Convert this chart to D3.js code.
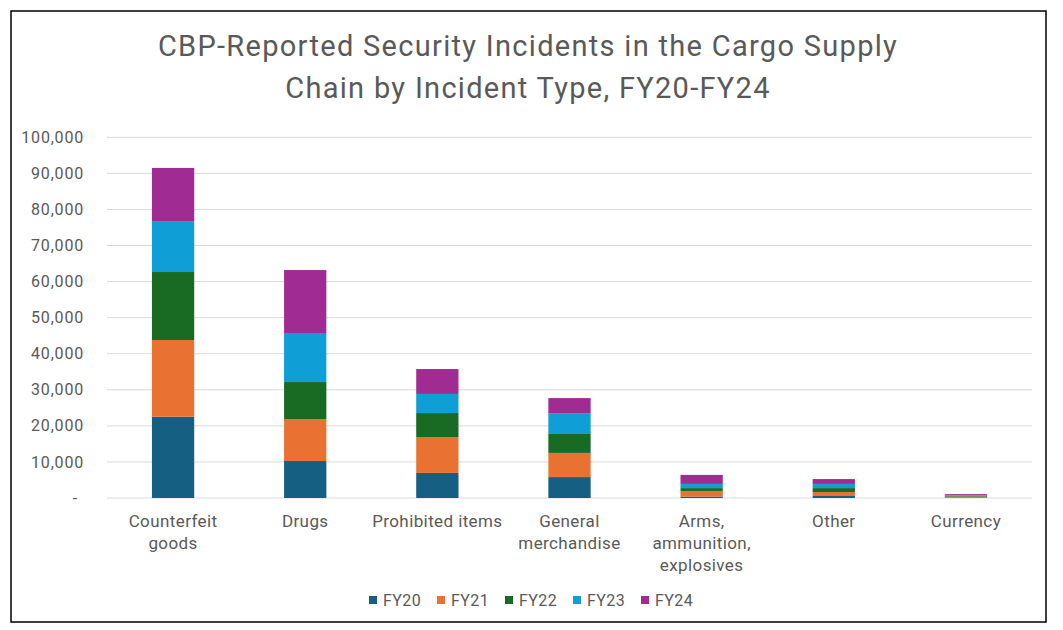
<!DOCTYPE html>
<html>
<head>
<meta charset="utf-8">
<script src="https://cdn.jsdelivr.net/npm/d3@7"></script>
<style>
  body { margin: 0; background: #fff; }
  text { font-family: Roboto, "Liberation Sans", sans-serif; fill: #595959; }
</style>
</head>
<body>
<div id="chart"></div>
<script>
// categories and series
var categories = ["Counterfeit goods", "Drugs", "Prohibited items", "General merchandise",
                  "Arms, ammunition, explosives", "Other", "Currency"];
var categoryLines = [["Counterfeit", "goods"], ["Drugs"], ["Prohibited items"], ["General", "merchandise"],
                     ["Arms,", "ammunition,", "explosives"], ["Other"], ["Currency"]];
var seriesNames = ["FY20", "FY21", "FY22", "FY23", "FY24"];
var fy20 = [22550, 10250, 6950, 5800, 400, 550, 150];
var fy21 = [21250, 11650, 9950, 6700, 1550, 1100, 250];
var fy22 = [18850, 10250, 6650, 5250, 800, 1100, 250];
var fy23 = [13950, 13600, 5300, 5650, 1150, 1150, 200];
var fy24 = [14900, 17450, 6900, 4300, 2500, 1350, 250];
var colors = ["#156082", "#E97132", "#196B24", "#0F9ED5", "#A02B93"];
var yTicks = [0, 10000, 20000, 30000, 40000, 50000, 60000, 70000, 80000, 90000, 100000];

var width = 1063, height = 630;
var svg = d3.select("#chart").append("svg")
    .attr("width", width).attr("height", height);

// frame
svg.append("rect")
    .attr("x", 11).attr("y", 11).attr("width", 1035).attr("height", 611)
    .attr("fill", "#fff").attr("stroke", "#000").attr("stroke-width", 1.5);

// title
var title = svg.append("text").attr("text-anchor", "middle")
    .style("font-size", "29px").style("letter-spacing", "1.3px");
title.append("tspan").attr("x", 528).attr("y", 56).text("CBP-Reported Security Incidents in the Cargo Supply");
title.append("tspan").attr("x", 528).attr("y", 98).text("Chain by Incident Type, FY20-FY24");

// build table for stack
var table = categories.map(function (c, i) {
    return { cat: c, FY20: fy20[i], FY21: fy21[i], FY22: fy22[i], FY23: fy23[i], FY24: fy24[i] };
});
var stacked = d3.stack().keys(seriesNames)(table);

var x = d3.scaleBand().domain(categories).range([107, 1032]);
var y = d3.scaleLinear().domain([0, 100000]).range([498, 137.3]);

// gridlines
svg.append("g").selectAll("line").data(yTicks).join("line")
    .attr("x1", 107).attr("x2", 1032)
    .attr("y1", d => y(d)).attr("y2", d => y(d))
    .attr("stroke", "#D9D9D9").attr("stroke-width", 1);

// y labels
svg.append("g").selectAll("text").data(yTicks).join("text")
    .attr("x", d => d === 0 ? 78 : 84)
    .attr("y", d => y(d))
    .attr("dy", "0.35em")
    .attr("text-anchor", "end")
    .style("font-size", "16px").style("letter-spacing", "0.8px")
    .text(d => d === 0 ? "-" : d3.format(",")(d));

// bars
var barW = x.bandwidth() * 0.32;
svg.append("g").selectAll("g").data(stacked).join("g")
    .attr("fill", (d, i) => colors[i])
    .selectAll("rect").data(d => d).join("rect")
    .attr("x", d => x(d.data.cat) + (x.bandwidth() - barW) / 2)
    .attr("width", barW)
    .attr("y", d => y(d[1]))
    .attr("height", d => y(d[0]) - y(d[1]));

// category labels
var catG = svg.append("g");
categories.forEach(function (c, i) {
    var t = catG.append("text").attr("text-anchor", "middle")
        .style("font-size", "17px").style("letter-spacing", "0.4px");
    categoryLines[i].forEach(function (line, j) {
        t.append("tspan").attr("x", x(c) + x.bandwidth() / 2).attr("y", 527 + j * 22).text(line);
    });
});

// legend
var legend = svg.append("g").selectAll("g").data(seriesNames).join("g")
    .attr("transform", (d, i) => "translate(" + (369 + i * 68) + ",596)");
legend.append("rect").attr("width", 8).attr("height", 8).attr("fill", (d, i) => colors[i]);
legend.append("text").attr("x", 14).attr("y", 4).attr("dy", "0.35em")
    .style("font-size", "16px").style("letter-spacing", "0.4px").text(d => d);
</script>
</body>
</html>
